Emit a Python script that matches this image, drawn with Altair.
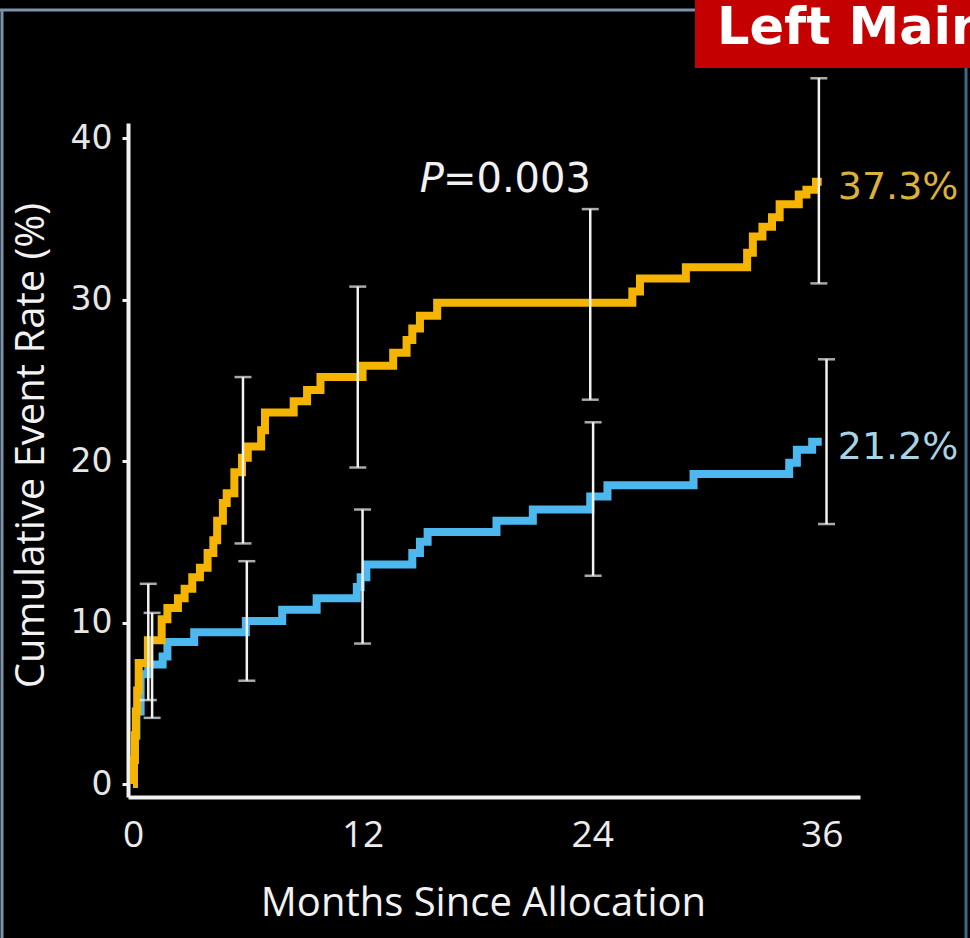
import altair as alt
import pandas as pd

# Cumulative event curves (months since allocation, % with event)
pci_month = [0, 0.05, 0.1, 0.15, 0.22, 0.3, 0.78, 1.5, 1.8, 2.35, 2.7, 3.1, 3.5, 3.9,
             4.2, 4.4, 4.7, 4.9, 5.3, 5.7, 6.0, 6.7, 6.9, 8.4, 9.1, 9.8, 12.0, 13.6,
             14.3, 14.6, 15.0, 15.9, 26.1, 26.5, 28.9, 32.1, 32.4, 32.9, 33.4, 33.8,
             34.8, 35.2, 35.7, 36.0]
pci_rate = [0, 1.5, 3.0, 4.5, 5.8, 7.5, 8.9, 10.2, 10.9, 11.5, 12.1, 12.8, 13.4, 14.3,
            15.1, 16.3, 17.4, 18.0, 19.3, 20.2, 20.9, 21.9, 23.0, 23.7, 24.4, 25.2, 25.9, 26.7,
            27.5, 28.2, 29.0, 29.8, 30.5, 31.3, 32.0, 32.9, 33.9, 34.5, 35.1, 35.9,
            36.5, 36.8, 37.3, 37.3]

cabg_month = [0, 0.05, 0.1, 0.18, 0.4, 0.8, 1.55, 1.8, 3.2, 5.9, 7.8, 9.6, 11.7, 11.9,
              12.2, 14.6, 15.0, 15.4, 19.0, 20.9, 23.9, 24.8, 29.3, 34.3, 34.7, 35.5, 36.0]
cabg_rate = [0, 1.5, 3.0, 4.5, 6.8, 7.4, 7.9, 8.8, 9.4, 10.1, 10.8, 11.5, 12.2, 12.8,
             13.6, 14.3, 15.0, 15.6, 16.3, 17.0, 17.8, 18.5, 19.2, 19.9, 20.7, 21.2, 21.2]

# 95% confidence intervals at selected follow-up times
pci_ci_month = [0.8, 5.75, 11.75, 23.9, 35.85]
pci_ci_low = [5.2, 14.9, 19.6, 23.8, 31.0]
pci_ci_high = [12.4, 25.2, 30.8, 35.6, 43.7]
cabg_ci_month = [1.0, 5.95, 12.0, 24.05, 36.25]
cabg_ci_low = [4.1, 6.4, 8.7, 12.9, 16.1]
cabg_ci_high = [10.6, 13.8, 17.0, 22.4, 26.3]

groups = ["PCI", "CABG"]
line_colors = ["#f5b400", "#4cb8ee"]
label_colors = ["#dcb13a", "#a9d3e3"]
end_labels = ["37.3%", "21.2%"]
end_values = [37.3, 21.2]
end_month = 36
x_ticks = [0, 12, 24, 36]
y_ticks = [0, 10, 20, 30, 40]
p_label = "=0.003"
p_pos = (16.2, 37.4)

W, H = 732, 674
PAD = {"left": 128, "top": 123, "right": 110, "bottom": 141}
WHITE = "#f2f2f2"
FRAME = "#7d93aa"

pci = pd.DataFrame({"month": pci_month, "rate": pci_rate})
cabg = pd.DataFrame({"month": cabg_month, "rate": cabg_rate})
ci = pd.concat([
    pd.DataFrame({"month": pci_ci_month, "low": pci_ci_low, "high": pci_ci_high}),
    pd.DataFrame({"month": cabg_ci_month, "low": cabg_ci_low, "high": cabg_ci_high}),
])
ends = pd.DataFrame({"group": groups, "month": end_month, "rate": end_values,
                     "label": end_labels, "tone": label_colors})

xs = alt.Scale(domain=[-0.26, 38.0], nice=False, zero=False)
ys = alt.Scale(domain=[-0.8, 40.93], nice=False, zero=False)

x_axis = alt.Axis(values=x_ticks, ticks=False, grid=False, domainColor=WHITE, domainWidth=4,
                  labelColor="#ececec", labelFont="Open Sans", labelFontSize=37, labelPadding=20,
                  labelFlush=False, titleFont="Open Sans", titleFontSize=40,
                  titleFontWeight="normal", titleColor=WHITE, titlePadding=30, titleX=355)
y_axis = alt.Axis(values=y_ticks, grid=False, domainColor=WHITE, domainWidth=4,
                  tickColor=WHITE, tickSize=6, tickWidth=3,
                  labelColor="#e6e6e6", labelFont="DejaVu Sans", labelFontSize=33, labelPadding=10,
                  labelFlush=False, titleFont="Open Sans", titleFontSize=40,
                  titleFontWeight="normal", titleColor=WHITE, titlePadding=19, titleY=322)

X_ENC = alt.X("month:Q", scale=xs, axis=x_axis, title="Months Since Allocation")
Y_ENC = alt.Y("rate:Q", scale=ys, axis=y_axis, title="Cumulative Event Rate (%)")


def curve(df, colour):
    return alt.Chart(df).mark_line(
        interpolate="step-after", strokeWidth=8, strokeJoin="miter", strokeCap="butt",
        color=colour
    ).encode(x=X_ENC, y=Y_ENC, order=alt.Order("month:Q"))


# CABG drawn first so the PCI curve sits on top where they overlap
cabg_line = curve(cabg, line_colors[1])
pci_line = curve(pci, line_colors[0])

bars = alt.Chart(ci).mark_rule(color=WHITE, strokeWidth=2.5).encode(
    x="month:Q", y="low:Q", y2="high:Q")
caps_low = alt.Chart(ci).mark_tick(color=WHITE, orient="horizontal", size=17, thickness=2.5).encode(
    x="month:Q", y="low:Q")
caps_high = alt.Chart(ci).mark_tick(color=WHITE, orient="horizontal", size=17, thickness=2.5).encode(
    x="month:Q", y="high:Q")

end_text = alt.Chart(ends).mark_text(
    align="left", baseline="middle", dx=16, dy=6, font="DejaVu Sans", fontSize=38
).encode(x="month:Q", y="rate:Q", text="label:N", color=alt.Color("tone:N", scale=None))

p_df = pd.DataFrame({"month": [p_pos[0]], "rate": [p_pos[1]]})
p_italic = alt.Chart(p_df).mark_text(
    text="P", align="right", baseline="middle", font="DejaVu Sans", fontStyle="italic",
    fontSize=40, color=WHITE, dx=1
).encode(x="month:Q", y="rate:Q")
p_value = alt.Chart(p_df).mark_text(
    text=p_label, align="left", baseline="middle", font="DejaVu Sans", fontSize=40, color=WHITE
).encode(x="month:Q", y="rate:Q")

# Slide furniture: frame and the red subgroup tag in the corner
one = alt.Data(values=[{}])
frame_top = alt.Chart(one).mark_rule(color=FRAME, strokeWidth=3).encode(
    x=alt.value(-128), x2=alt.value(567), y=alt.value(-113))
frame_left = alt.Chart(one).mark_rule(color=FRAME, strokeWidth=3).encode(
    x=alt.value(-126), y=alt.value(-113), y2=alt.value(815))
frame_right = alt.Chart(one).mark_rule(color="#3a6a8a", strokeWidth=3).encode(
    x=alt.value(838), y=alt.value(-123), y2=alt.value(815))
tag_box = alt.Chart(one).mark_rect(color="#c40000").encode(
    x=alt.value(567), x2=alt.value(842), y=alt.value(-123), y2=alt.value(-55))
tag_text = alt.Chart(one).mark_text(
    text="Left Main", align="left", baseline="alphabetic", font="DejaVu Sans",
    fontWeight="bold", fontSize=51, color="#ffffff"
).encode(x=alt.value(589), y=alt.value(-79))

chart = alt.layer(
    cabg_line, pci_line, frame_top, frame_left, frame_right, tag_box, tag_text,
    bars, caps_low, caps_high, end_text, p_italic, p_value
).properties(
    width=W, height=H, padding=PAD,
    autosize=alt.AutoSizeParams(type="none"),
    background="#000000",
).configure_view(stroke=None)

chart.save("out.html", embed_options={"renderer": "svg", "actions": False})
